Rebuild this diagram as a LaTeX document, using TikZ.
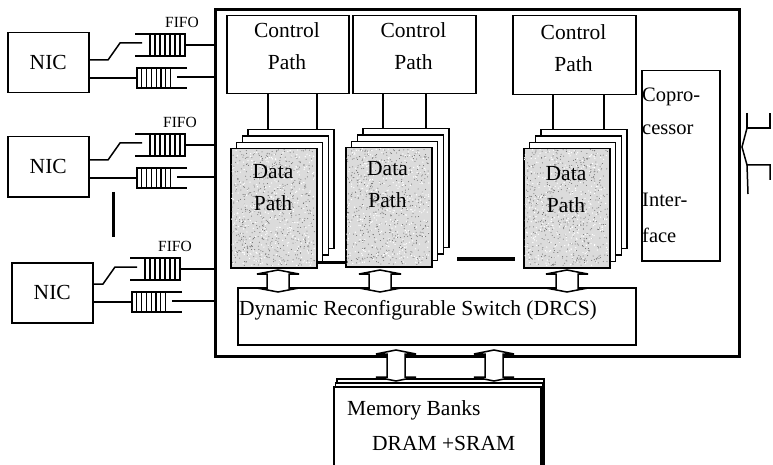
\documentclass[tikz,border=0pt]{standalone}
\usepackage{fontspec}
\setmainfont{Liberation Serif}
\usetikzlibrary{calc}
\newcommand\fifogroup[3]{%
  \draw[wire] (#1,#2) -- ({#1+50},#2) -- ({#1+50},{#2+22}) -- (#1,{#2+22});
  \foreach \s in {0,...,6} \draw[slat] ({#1+15+\s*5},#2) -- ({#1+15+\s*5},{#2+22});
  \coordinate (#3a) at ({#1+50},{#2+11});
  \draw[wire] (#3a) -- (#3a -| mb.west);
  \coordinate (#3s) at ({#1-27},{#2+26});
  \draw[wire] (#3s -| #3.east) -- (#3s) -- ({#1-15},{#2+9}) -- ({#1+7},{#2+9});
  \draw[wire] ({#1+52},{#2+34}) -- ({#1+2},{#2+34}) -- ({#1+2},{#2+54}) -- ({#1+52},{#2+54});
  \foreach \s in {1,...,7} \draw[slat] ({#1+2+\s*4.8},{#2+34}) -- ({#1+2+\s*4.8},{#2+54});
  \coordinate (#3b) at ({#1+2},{#2+44});
  \draw[wire] (#3b -| #3.east) -- (#3b);
  \coordinate (#3c) at ({#1+42},{#2+43});
  \draw[wire] (#3c) -- (#3c -| mb.west);
}
\newcommand\dstack[3]{%
  \foreach \k in {3,2,1} {\node[box, minimum width=86pt, minimum height=119pt] (#1l\k) at ({#2+5.8*\k},{#3-6.4*\k}) {};}
  \node[box, fill=gray!28, minimum width=86pt, minimum height=119pt] (#1) at (#2,#3) {};
  \foreach \k in {1,...,600} {%
    \pgfmathsetmacro\dpx{#2+1.5+rnd*83}\pgfmathsetmacro\dpy{#3+1.5+rnd*116}%
    \fill[black!60] (\dpx,\dpy) circle (0.5pt);}
  \foreach \k in {1,...,350} {%
    \pgfmathsetmacro\dpx{#2+1.5+rnd*83}\pgfmathsetmacro\dpy{#3+1.5+rnd*116}%
    \fill[white] (\dpx,\dpy) circle (0.7pt);}
}
\newcommand\harrow[5]{%
  \draw[dbl] (#1,#2) -- ({#1+#4},{#2+4}) -- ({#1+#5},{#2+4}) -- ({#1+#5},{#3-4}) -- ({#1+#4},{#3-4})
    -- (#1,#3) -- ({#1-#4},{#3-4}) -- ({#1-#5},{#3-4}) -- ({#1-#5},{#2+4}) -- ({#1-#4},{#2+4}) -- cycle;}
\begin{document}
\begin{tikzpicture}[x=1pt,y=-1pt,
  box/.style={draw, line width=1.5pt, inner sep=0pt, anchor=north west, fill=white,
    font=\fontsize{21.5}{32}\selectfont},
  lbl/.style={font=\fontsize{21.5}{32}\selectfont, inner sep=0pt, align=center},
  lbll/.style={font=\fontsize{21.5}{32}\selectfont, inner sep=0pt, anchor=west},
  small/.style={font=\fontsize{15.5}{17}\selectfont, inner sep=0pt},
  wire/.style={line width=1.5pt},
  slat/.style={line width=1.1pt},
  dbl/.style={draw, line width=1.5pt, fill=white, line join=miter},
]
\useasboundingbox (0,0) rectangle (773,465);
\clip (0,0) rectangle (773,465);
\pgfmathsetseed{7}
% main box
\node[draw, line width=3.2pt, inner sep=0pt, anchor=north west, minimum width=524pt, minimum height=347pt] (mb) at (214,8) {};
% control paths
\node[box, minimum width=122pt, minimum height=78pt] (cp1) at (226,15) {};
\node[box, minimum width=123pt, minimum height=78pt] (cp2) at (352,15) {};
\node[box, minimum width=123pt, minimum height=79pt] (cp3) at (512,15) {};
\node[lbl] (cp1t) at (287,46) {Control\\Path};
\node[lbl] (cp2t) at (413.5,46) {Control\\Path};
\node[lbl] (cp3t) at (573.5,48) {Control\\Path};
% data path stacks
\dstack{dp1}{230}{148}
\dstack{dp2}{345}{147}
\dstack{dp3}{523}{148}
\node[lbl] (dp1t) at (273,188) {Data\\Path};
\node[lbl] (dp2t) at (387.5,185) {Data\\Path};
\node[lbl] (dp3t) at (566,189.5) {Data\\Path};
% control to data
\draw[wire] (cp1.south -| 268,0) -- (dp1l3.north -| 268,0);
\draw[wire] (cp1.south -| 317,0) -- (dp1l3.north -| 317,0);
\draw[wire] (cp2.south -| 383,0) -- (dp2l3.north -| 383,0);
\draw[wire] (cp2.south -| 426,0) -- (dp2l3.north -| 426,0);
\draw[wire] (cp3.south -| 553,0) -- (dp3l3.north -| 553,0);
\draw[wire] (cp3.south -| 604,0) -- (dp3l3.north -| 604,0);
% bars between stacks
\draw[line width=3pt] (dp1.east |- 0,262.5) -- (dp2.west |- 0,262.5);
\draw[line width=4pt] (457,259) -- (515,259);
% coprocessor interface
\node[box, minimum width=78pt, minimum height=190pt] (cop) at (641,70) {};
\node[lbll, font=\fontsize{20.5}{24}\selectfont] (copa) at (642,97) {Copro-};
\node[lbll, font=\fontsize{20.5}{24}\selectfont] (copb) at (642,130) {cessor};
\node[lbll, font=\fontsize{20.5}{24}\selectfont] (copc) at (642,200) {Inter-};
\node[lbll, font=\fontsize{20.5}{24}\selectfont] (copd) at (642,235) {face};
% DRCS
\node[box, minimum width=398pt, minimum height=57pt] (drcs) at (237,287) {};
\node[lbll] (drcst) at (239,310) {Dynamic Reconfigurable Switch (DRCS)};
\harrow{278}{270}{292}{21}{11}
\harrow{380}{270}{292}{21}{11}
\harrow{567}{270}{292}{21}{11}
% memory
\node[box, minimum width=207pt, minimum height=100pt] (meml2) at (336,378) {};
\node[box, minimum width=207pt, minimum height=100pt] (meml1) at (334.5,382) {};
\node[box, minimum width=207pt, minimum height=100pt] (mem) at (333,386) {};
\node[lbll] (memt1) at (347,410) {Memory Banks};
\node[lbll] (memt2) at (372,443) {DRAM +SRAM};
\harrow{396}{350}{381}{20}{9}
\harrow{494}{350}{381}{20}{9}
% NICs
\node[box, minimum width=81pt, minimum height=60pt] (nic1) at (7,32) {NIC};
\node[box, minimum width=81pt, minimum height=60pt] (nic2) at (7,136) {NIC};
\node[box, minimum width=81pt, minimum height=60pt] (nic3) at (11,262) {NIC};
\fifogroup{135}{34}{nic1}
\fifogroup{135}{134}{nic2}
\fifogroup{130}{258}{nic3}
\node[small] (f1) at (182,22) {FIFO};
\node[small] (f2) at (180,122) {FIFO};
\node[small] (f3) at (175,246) {FIFO};
\draw[line width=3pt] (113,192) -- (113,237);
% right side bus symbol
\draw[wire] (747,113) -- (747,128) -- (770,128) -- (770,113);
\draw[wire] (747,128) -- (742,147) -- (747,165) -- (770,165) -- (770,180);
\draw[wire] (747,165) -- (748,194);
\end{tikzpicture}
\end{document}
